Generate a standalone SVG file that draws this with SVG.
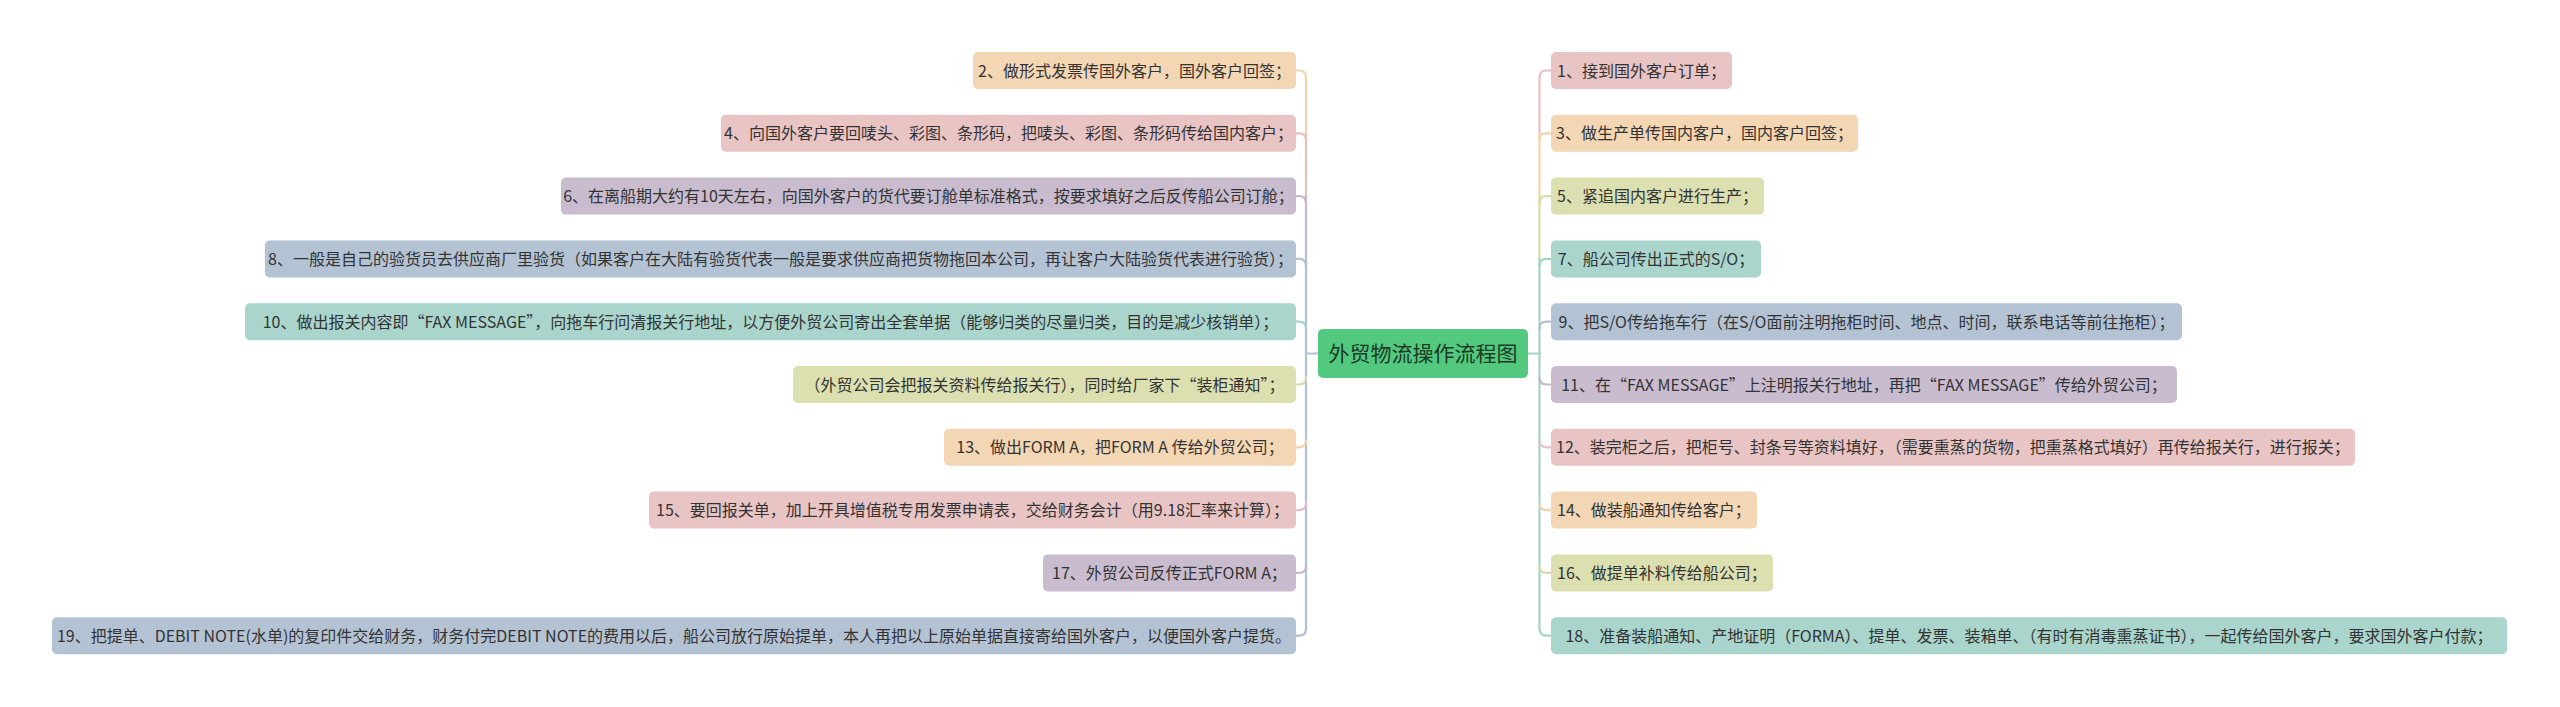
<svg xmlns="http://www.w3.org/2000/svg" width="2560" height="707" viewBox="0 0 2560 707">
<style>
.t{font-family:"Noto Sans CJK SC","Noto Sans",sans-serif;font-size:16px;fill:#333;text-anchor:middle}
.rt{font-family:"Noto Sans CJK SC","Noto Sans",sans-serif;font-size:21px;fill:#1c3a25;text-anchor:middle}
.c{fill:none;stroke-width:2.2;stroke-linecap:round}
.peach{fill:#f3d6b3}.pink{fill:#e8c4c5}.purple{fill:#c9bccf}.blue{fill:#b4c3d4}.teal{fill:#a9d5cc}.yellow{fill:#dcdfb0}
.speach{stroke:#f1d3ae}.spink{stroke:#e6c1c3}.spurple{stroke:#c6b9cc}.sblue{stroke:#b1c0d2}.steal{stroke:#a6d3c9}.syellow{stroke:#d9dcaa}
</style>
<rect width="2560" height="707" fill="#ffffff"/>
<g id="connectors">
<line class="c speach" x1="1306" y1="77.5" x2="1306" y2="133.3"/>
<line class="c spink" x1="1306" y1="133.3" x2="1306" y2="196.1"/>
<line class="c spurple" x1="1306" y1="196.1" x2="1306" y2="258.9"/>
<line class="c sblue" x1="1306" y1="258.9" x2="1306" y2="628.7"/>
<path class="c sblue" d="M1306 353.5 H1318"/>
<path class="c speach" d="M1296 70.5 H1299 Q1306 70.5 1306 77.5"/>
<path class="c spink" d="M1296 133.3 H1299 Q1306 133.3 1306 140.3"/>
<path class="c spurple" d="M1296 196.1 H1299 Q1306 196.1 1306 203.1"/>
<path class="c sblue" d="M1296 258.9 H1299 Q1306 258.9 1306 265.9"/>
<path class="c steal" d="M1296 321.7 H1299 Q1306 321.7 1306 328.7"/>
<path class="c syellow" d="M1296 384.5 H1299 Q1306 384.5 1306 377.5"/>
<path class="c speach" d="M1296 447.3 H1299 Q1306 447.3 1306 440.3"/>
<path class="c spink" d="M1296 510.1 H1299 Q1306 510.1 1306 503.1"/>
<path class="c spurple" d="M1296 572.9 H1299 Q1306 572.9 1306 565.9"/>
<path class="c sblue" d="M1296 635.7 H1299 Q1306 635.7 1306 628.7"/>
<line class="c spink" x1="1539.5" y1="77.5" x2="1539.5" y2="133.3"/>
<line class="c speach" x1="1539.5" y1="133.3" x2="1539.5" y2="196.1"/>
<line class="c syellow" x1="1539.5" y1="196.1" x2="1539.5" y2="258.9"/>
<line class="c steal" x1="1539.5" y1="258.9" x2="1539.5" y2="628.7"/>
<path class="c steal" d="M1528 353.5 H1539.5"/>
<path class="c spink" d="M1551 70.5 H1546.5 Q1539.5 70.5 1539.5 77.5"/>
<path class="c speach" d="M1551 133.3 H1546.5 Q1539.5 133.3 1539.5 140.3"/>
<path class="c syellow" d="M1551 196.1 H1546.5 Q1539.5 196.1 1539.5 203.1"/>
<path class="c steal" d="M1551 258.9 H1546.5 Q1539.5 258.9 1539.5 265.9"/>
<path class="c sblue" d="M1551 321.7 H1546.5 Q1539.5 321.7 1539.5 328.7"/>
<path class="c spurple" d="M1551 384.5 H1546.5 Q1539.5 384.5 1539.5 377.5"/>
<path class="c spink" d="M1551 447.3 H1546.5 Q1539.5 447.3 1539.5 440.3"/>
<path class="c speach" d="M1551 510.1 H1546.5 Q1539.5 510.1 1539.5 503.1"/>
<path class="c syellow" d="M1551 572.9 H1546.5 Q1539.5 572.9 1539.5 565.9"/>
<path class="c steal" d="M1551 635.7 H1546.5 Q1539.5 635.7 1539.5 628.7"/>
</g>
<g id="root">
<rect x="1318" y="329" width="210" height="49" rx="5" fill="#52c97f"/>
<text class="rt" x="1423" y="361">外贸物流操作流程图</text>
</g>
<g id="n2"><rect class="peach" x="973" y="52" width="323" height="37" rx="5"/><text class="t" x="1134.5" y="76.5">2、做形式发票传国外客户，国外客户回签；</text></g>
<g id="n4"><rect class="pink" x="721" y="114.8" width="575" height="37" rx="5"/><text class="t" x="1008.5" y="139.3">4、向国外客户要回唛头、彩图、条形码，把唛头、彩图、条形码传给国内客户；</text></g>
<g id="n6"><rect class="purple" x="561" y="177.6" width="735" height="37" rx="5"/><text class="t" x="928.5" y="202.1">6、在离船期大约有10天左右，向国外客户的货代要订舱单标准格式，按要求填好之后反传船公司订舱；</text></g>
<g id="n8"><rect class="blue" x="265" y="240.4" width="1031" height="37" rx="5"/><text class="t" x="780.5" y="264.9">8、一般是自己的验货员去供应商厂里验货（如果客户在大陆有验货代表一般是要求供应商把货物拖回本公司，再让客户大陆验货代表进行验货）；</text></g>
<g id="n10"><rect class="teal" x="245" y="303.2" width="1051" height="37" rx="5"/><text class="t" x="770.5" y="327.7">10、做出报关内容即“FAX MESSAGE”，向拖车行问清报关行地址，以方便外贸公司寄出全套单据（能够归类的尽量归类，目的是减少核销单）；</text></g>
<g id="n10b"><rect class="yellow" x="793" y="366" width="503" height="37" rx="5"/><text class="t" x="1044.5" y="390.5">（外贸公司会把报关资料传给报关行），同时给厂家下“装柜通知”；</text></g>
<g id="n13"><rect class="peach" x="944" y="428.8" width="352" height="37" rx="5"/><text class="t" x="1120" y="453.3">13、做出FORM A，把FORM A 传给外贸公司；</text></g>
<g id="n15"><rect class="pink" x="649" y="491.6" width="647" height="37" rx="5"/><text class="t" x="972.5" y="516.1">15、要回报关单，加上开具增值税专用发票申请表，交给财务会计（用9.18汇率来计算）；</text></g>
<g id="n17"><rect class="purple" x="1043" y="554.4" width="253" height="37" rx="5"/><text class="t" x="1169.5" y="578.9">17、外贸公司反传正式FORM A；</text></g>
<g id="n19"><rect class="blue" x="52" y="617.2" width="1244" height="37" rx="5"/><text class="t" x="674" y="641.7">19、把提单、DEBIT NOTE(水单)的复印件交给财务，财务付完DEBIT NOTE的费用以后，船公司放行原始提单，本人再把以上原始单据直接寄给国外客户，以便国外客户提货。</text></g>
<g id="n1"><rect class="pink" x="1551" y="52" width="181" height="37" rx="5"/><text class="t" x="1641.5" y="76.5">1、接到国外客户订单；</text></g>
<g id="n3"><rect class="peach" x="1551" y="114.8" width="307" height="37" rx="5"/><text class="t" x="1704.5" y="139.3">3、做生产单传国内客户，国内客户回签；</text></g>
<g id="n5"><rect class="yellow" x="1551" y="177.6" width="213" height="37" rx="5"/><text class="t" x="1657.5" y="202.1">5、紧追国内客户进行生产；</text></g>
<g id="n7"><rect class="teal" x="1551" y="240.4" width="210" height="37" rx="5"/><text class="t" x="1656" y="264.9">7、船公司传出正式的S/O；</text></g>
<g id="n9"><rect class="blue" x="1551" y="303.2" width="631" height="37" rx="5"/><text class="t" x="1866.5" y="327.7">9、把S/O传给拖车行（在S/O面前注明拖柜时间、地点、时间，联系电话等前往拖柜）；</text></g>
<g id="n11"><rect class="purple" x="1551" y="366" width="626" height="37" rx="5"/><text class="t" x="1864" y="390.5">11、在“FAX MESSAGE”上注明报关行地址，再把“FAX MESSAGE”传给外贸公司；</text></g>
<g id="n12"><rect class="pink" x="1551" y="428.8" width="804" height="37" rx="5"/><text class="t" x="1953" y="453.3">12、装完柜之后，把柜号、封条号等资料填好，（需要熏蒸的货物，把熏蒸格式填好）再传给报关行，进行报关；</text></g>
<g id="n14"><rect class="peach" x="1551" y="491.6" width="206" height="37" rx="5"/><text class="t" x="1654" y="516.1">14、做装船通知传给客户；</text></g>
<g id="n16"><rect class="yellow" x="1551" y="554.4" width="222" height="37" rx="5"/><text class="t" x="1662" y="578.9">16、做提单补料传给船公司；</text></g>
<g id="n18"><rect class="teal" x="1551" y="617.2" width="956" height="37" rx="5"/><text class="t" x="2029" y="641.7">18、准备装船通知、产地证明（FORMA）、提单、发票、装箱单、（有时有消毒熏蒸证书），一起传给国外客户，要求国外客户付款；</text></g>
</svg>
